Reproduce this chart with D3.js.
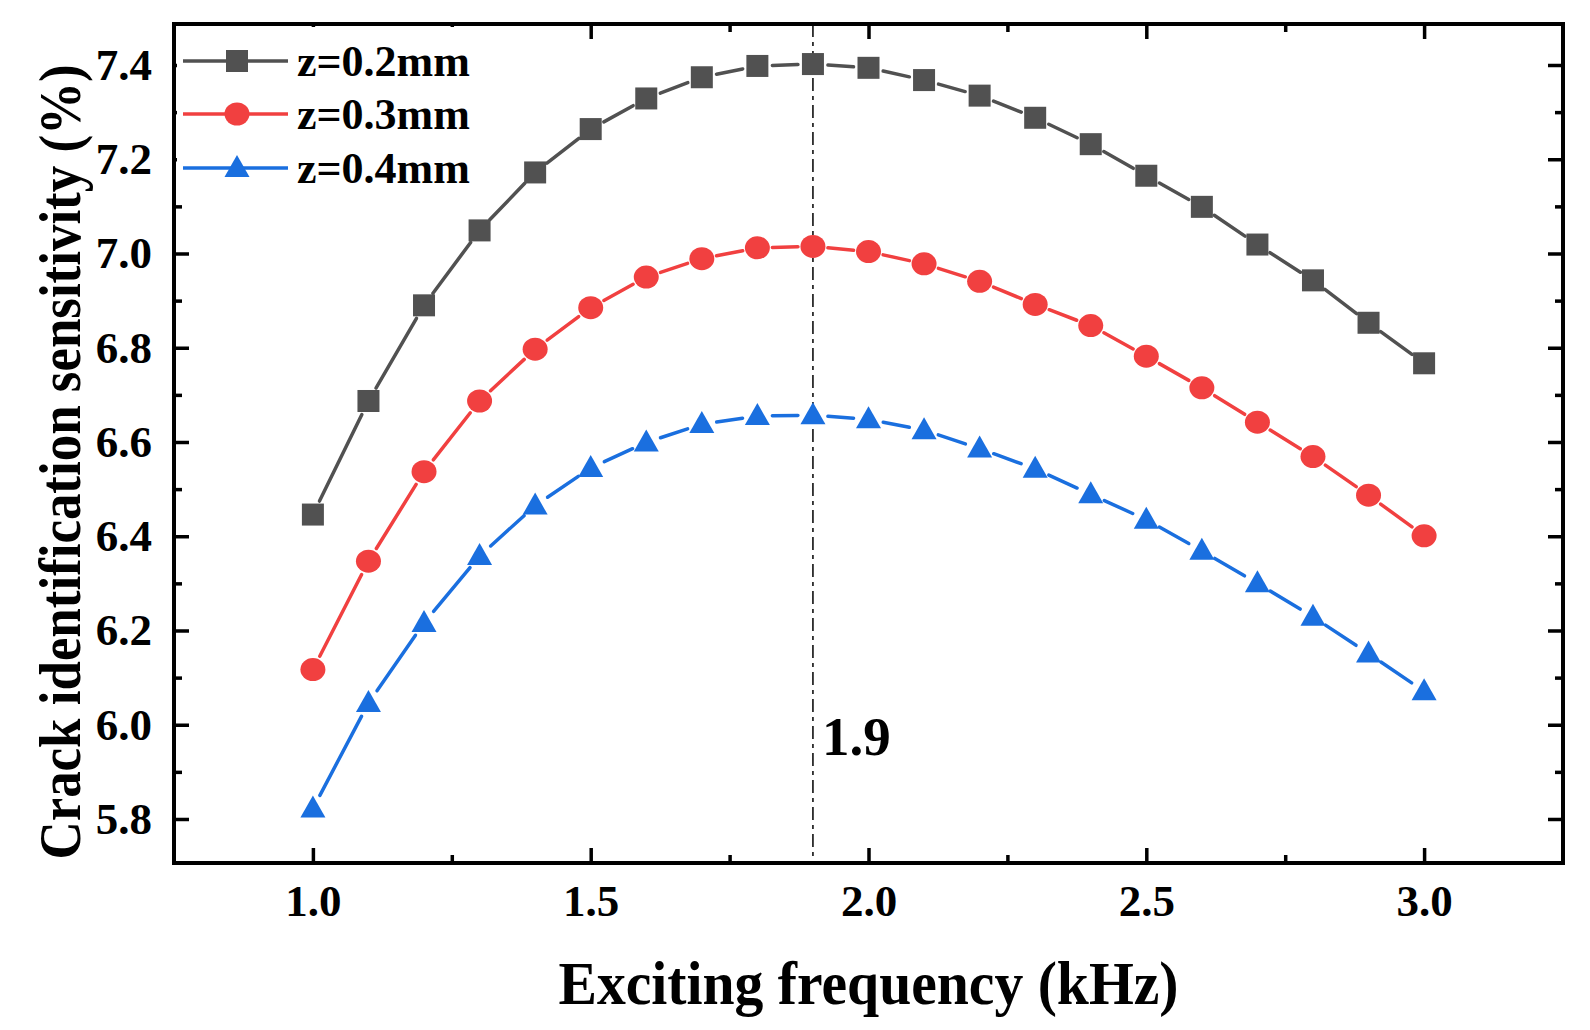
<!DOCTYPE html>
<meta charset="utf-8">
<script src="https://d3js.org/d3.v7.min.js"></script>
<body style="margin:0;background:#fff">
<div id="chart"></div>
<script>

// data
var freq = [1.0, 1.1, 1.2, 1.3, 1.4, 1.5, 1.6, 1.7, 1.8, 1.9, 2.0,
            2.1, 2.2, 2.3, 2.4, 2.5, 2.6, 2.7, 2.8, 2.9, 3.0];
var z02 = [6.446, 6.687, 6.890, 7.049, 7.172, 7.264, 7.329, 7.374, 7.398, 7.402, 7.394,
           7.368, 7.335, 7.288, 7.232, 7.165, 7.099, 7.019, 6.943, 6.853, 6.767];
var z03 = [6.117, 6.347, 6.537, 6.687, 6.797, 6.885, 6.950, 6.989, 7.012, 7.015, 7.004,
           6.978, 6.941, 6.892, 6.847, 6.782, 6.715, 6.642, 6.569, 6.487, 6.401];
var z04 = [5.822, 6.046, 6.216, 6.358, 6.465, 6.545, 6.599, 6.638, 6.655, 6.657, 6.648,
           6.625, 6.586, 6.543, 6.489, 6.435, 6.369, 6.300, 6.229, 6.151, 6.071];
var seriesNames = ["z=0.2mm", "z=0.3mm", "z=0.4mm"];
var xMajorTicks = [1.0, 1.5, 2.0, 2.5, 3.0];
var xMinorTicks = [1.25, 1.75, 2.25, 2.75];
var yMajorTicks = [5.8, 6.0, 6.2, 6.4, 6.6, 6.8, 7.0, 7.2, 7.4];
var yMinorTicks = [5.9, 6.1, 6.3, 6.5, 6.7, 6.9, 7.1, 7.3];
var peakFreq = 1.9;
var peakLabel = "1.9";
var xTitle = "Exciting frequency (kHz)";
var yTitle = "Crack identification sensitivity (%)";

var colors = ["#515151", "#F14040", "#1A6FDF"];
var shapes = ["square", "circle", "triangle"];
var font = "'Liberation Serif', 'Times New Roman', serif";

var margin = {top: 24, right: 27, bottom: 167, left: 174},
  width = 1590 - margin.left - margin.right,
  height = 1030 - margin.top - margin.bottom;

var svg = d3.select("#chart")
  .append("svg")
  .attr("width", 1590)
  .attr("height", 1030)
  .append("g")
  .attr("transform", "translate(" + margin.left + "," + margin.top + ")");

var x = d3.scaleLinear().domain([0.75, 3.25]).range([0, width]);
var y = d3.scaleLinear().domain([5.7066, 7.487]).range([height, 0]);

// axes, ticks pointing inward on all four sides
function styleAxis(g) {
  g.select(".domain").remove();
  g.selectAll(".tick line").attr("stroke", "#000").attr("stroke-width", 3.5);
  g.selectAll(".tick text")
    .attr("fill", "#000")
    .style("font-family", font)
    .style("font-weight", "bold")
    .style("font-size", "45px");
}

svg.append("g")
  .attr("transform", "translate(0," + height + ")")
  .call(d3.axisBottom(x).tickValues(xMajorTicks).tickSize(-15).tickPadding(21).tickFormat(d3.format(".1f")))
  .call(styleAxis);
svg.append("g")
  .attr("transform", "translate(0," + height + ")")
  .call(d3.axisBottom(x).tickValues(xMinorTicks).tickSize(-8).tickFormat(""))
  .call(styleAxis);
svg.append("g")
  .call(d3.axisTop(x).tickValues(xMajorTicks).tickSize(-15).tickFormat(""))
  .call(styleAxis);
svg.append("g")
  .call(d3.axisTop(x).tickValues(xMinorTicks).tickSize(-8).tickFormat(""))
  .call(styleAxis);

svg.append("g")
  .call(d3.axisLeft(y).tickValues(yMajorTicks).tickSize(-15).tickPadding(22).tickFormat(d3.format(".1f")))
  .call(styleAxis);
svg.append("g")
  .call(d3.axisLeft(y).tickValues(yMinorTicks).tickSize(-8).tickFormat(""))
  .call(styleAxis);
svg.append("g")
  .attr("transform", "translate(" + width + ",0)")
  .call(d3.axisRight(y).tickValues(yMajorTicks).tickSize(-15).tickFormat(""))
  .call(styleAxis);
svg.append("g")
  .attr("transform", "translate(" + width + ",0)")
  .call(d3.axisRight(y).tickValues(yMinorTicks).tickSize(-8).tickFormat(""))
  .call(styleAxis);

// frame
svg.append("rect")
  .attr("width", width)
  .attr("height", height)
  .attr("fill", "none")
  .attr("stroke", "#000")
  .attr("stroke-width", 4);

// axis titles (the original type is a bit condensed, hence the x scale)
svg.append("text")
  .attr("transform", "translate(" + (width / 2) + ",980) scale(0.945,1)")
  .attr("text-anchor", "middle")
  .style("font-family", font)
  .style("font-weight", "bold")
  .style("font-size", "61px")
  .text(xTitle);

svg.append("text")
  .attr("transform", "translate(" + (80 - margin.left) + "," + (462 - margin.top) + ") rotate(-90) scale(0.882,1)")
  .attr("text-anchor", "middle")
  .style("font-family", font)
  .style("font-weight", "bold")
  .style("font-size", "60px")
  .text(yTitle);

// vertical marker at the peak
svg.append("line")
  .attr("x1", x(peakFreq)).attr("x2", x(peakFreq))
  .attr("y1", 0).attr("y2", height)
  .attr("stroke", "#000")
  .attr("stroke-width", 1.5)
  .attr("stroke-dasharray", "13,5,4,5");

svg.append("text")
  .attr("x", x(peakFreq) + 9)
  .attr("y", y(5.935))
  .style("font-family", font)
  .style("font-weight", "bold")
  .style("font-size", "55px")
  .text(peakLabel);

// legend background hides the ticks behind it
svg.append("rect")
  .attr("x", 3).attr("y", 3)
  .attr("width", 305).attr("height", 168)
  .attr("fill", "#fff");

function symbol(g, shape, color) {
  if (shape == "square") {
    g.append("rect").attr("x", -11).attr("y", -11).attr("width", 22).attr("height", 22).attr("fill", color);
  } else if (shape == "circle") {
    g.append("ellipse").attr("rx", 12.5).attr("ry", 11.5).attr("fill", color);
  } else {
    g.append("path").attr("d", "M0,-13L12.5,9L-12.5,9Z").attr("fill", color);
  }
}

var allSeries = [z02, z03, z04];
var gap = 15;

allSeries.forEach(function(vals, i) {
  var pts = freq.map(function(f, j) { return [x(f), y(vals[j])]; });
  var segs = d3.pairs(pts).map(function(p) {
    var dx = p[1][0] - p[0][0], dy = p[1][1] - p[0][1];
    var len = Math.sqrt(dx * dx + dy * dy);
    var ux = dx / len, uy = dy / len;
    return [p[0][0] + ux * gap, p[0][1] + uy * gap, p[1][0] - ux * gap, p[1][1] - uy * gap];
  });
  svg.append("g").selectAll("line")
    .data(segs)
    .enter()
    .append("line")
    .attr("x1", function(d) { return d[0]; })
    .attr("y1", function(d) { return d[1]; })
    .attr("x2", function(d) { return d[2]; })
    .attr("y2", function(d) { return d[3]; })
    .attr("stroke", colors[i])
    .attr("stroke-width", 3.5)
    .attr("stroke-linecap", "round");

  svg.append("g").selectAll("g")
    .data(pts)
    .enter()
    .append("g")
    .attr("transform", function(d) { return "translate(" + d[0] + "," + d[1] + ")"; })
    .each(function() { symbol(d3.select(this), shapes[i], colors[i]); });
});

// legend
var legendY = [37, 90, 144];
seriesNames.forEach(function(name, i) {
  var lg = svg.append("g").attr("transform", "translate(0," + legendY[i] + ")");
  lg.append("line")
    .attr("x1", 9).attr("x2", 114)
    .attr("stroke", colors[i])
    .attr("stroke-width", 3.5);
  var m = lg.append("g").attr("transform", "translate(63,0)");
  symbol(m, shapes[i], colors[i]);
  lg.append("text")
    .attr("x", 123)
    .attr("y", 15)
    .style("font-family", font)
    .style("font-weight", "bold")
    .style("font-size", "44px")
    .text(name);
});

</script>
</body>
